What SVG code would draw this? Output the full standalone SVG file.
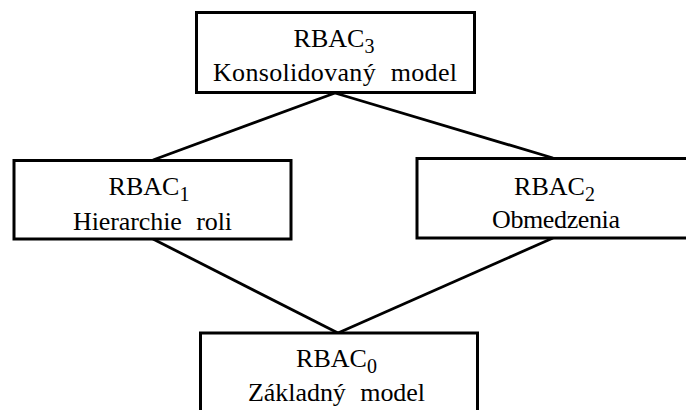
<svg xmlns="http://www.w3.org/2000/svg" width="686" height="410" viewBox="0 0 686 410">
  <style>
    .box { fill: #ffffff; stroke: #000000; stroke-width: 3; }
    .edge { stroke: #000000; stroke-width: 2.8; fill: none; }
    .lbl { font-family: 'Liberation Serif', 'Times New Roman', serif; font-size: 26px; fill: #000000; text-anchor: middle; word-spacing: 8px; }
    .sub { font-size: 20px; }
  </style>
  <rect width="686" height="410" fill="#ffffff"/>

  <!-- connectors between model levels -->
  <g id="connectors">
    <line class="edge" x1="335" y1="93" x2="153" y2="160"/>
    <line class="edge" x1="335" y1="93" x2="553" y2="158"/>
    <line class="edge" x1="153" y1="239" x2="338" y2="333"/>
    <line class="edge" x1="553" y1="238" x2="338" y2="333"/>
  </g>

  <g id="rbac3">
    <rect class="box" x="196.5" y="12.5" width="278" height="80"/>
    <text class="lbl" x="334" y="46.5">RBAC<tspan class="sub" dy="6">3</tspan></text>
    <text class="lbl" x="335" y="80.5" textLength="244" lengthAdjust="spacing">Konsolidovaný model</text>
  </g>

  <g id="rbac1">
    <rect class="box" x="14" y="160.5" width="277" height="78.5"/>
    <text class="lbl" x="149" y="195">RBAC<tspan class="sub" dy="6">1</tspan></text>
    <text class="lbl" x="152.5" y="230" textLength="159" lengthAdjust="spacing">Hierarchie roli</text>
  </g>

  <g id="rbac2">
    <rect class="box" x="417" y="158.5" width="276" height="79.5"/>
    <text class="lbl" x="554.5" y="195">RBAC<tspan class="sub" dy="6">2</tspan></text>
    <text class="lbl" x="556" y="228" textLength="128" lengthAdjust="spacing">Obmedzenia</text>
  </g>

  <g id="rbac0">
    <rect class="box" x="200.5" y="333" width="277" height="90"/>
    <text class="lbl" x="336.5" y="367">RBAC<tspan class="sub" dy="6">0</tspan></text>
    <text class="lbl" x="336.5" y="401" textLength="177" lengthAdjust="spacing">Základný model</text>
  </g>
</svg>
